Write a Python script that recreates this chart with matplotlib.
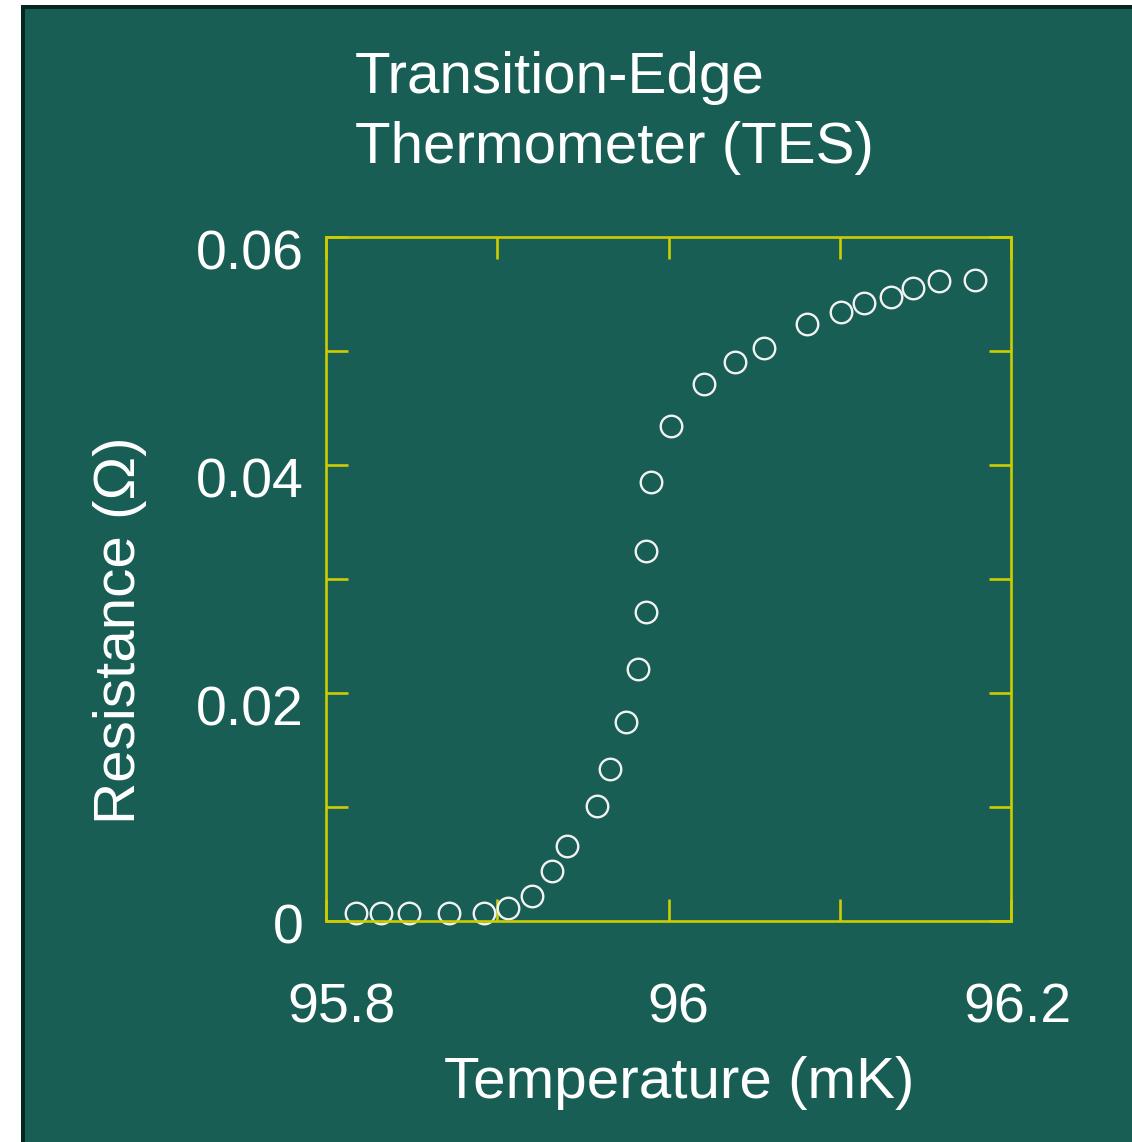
import matplotlib
matplotlib.use("Agg")
import matplotlib.pyplot as plt
import matplotlib.transforms as mtransforms
from matplotlib.patches import Rectangle

# ---- data ----
temperature_mK = [95.8175, 95.832, 95.8485, 95.872, 95.892, 95.906, 95.920, 95.932,
                  95.941, 95.958, 95.966, 95.975, 95.982, 95.987, 95.987, 95.990,
                  96.0015, 96.021, 96.039, 96.056, 96.081, 96.101, 96.114, 96.130,
                  96.143, 96.158, 96.179]
resistance_ohm = [0.0007, 0.0007, 0.0007, 0.0007, 0.0007, 0.00114, 0.0022, 0.0044,
                  0.0066, 0.0101, 0.0133, 0.0175, 0.0221, 0.0271, 0.0325, 0.0385,
                  0.0434, 0.0471, 0.0490, 0.0503, 0.0524, 0.0534, 0.0542, 0.0547,
                  0.0555, 0.0561, 0.0562]
x_major_ticks = [95.8, 96.0, 96.2]
x_major_labels = ["95.8", "96", "96.2"]
x_minor_ticks = [95.9, 96.1]
y_major_ticks = [0.0, 0.02, 0.04, 0.06]
y_major_labels = ["0", "0.02", "0.04", "0.06"]
y_minor_ticks = [0.01, 0.03, 0.05]
title_lines = ["Transition-Edge", "Thermometer (TES)"]
x_label = "Temperature (mK)"
y_label = "Resistance (\u03a9)"

# ---- style ----
BG = "#185e54"
BORDER = "#062622"
AXC = "#cccc00"
TXT = "white"
plt.rcParams['font.family'] = ['Liberation Sans', 'DejaVu Sans']

W, H = 1132, 1142
fig = plt.figure(figsize=(W / 100, H / 100), dpi=100, facecolor="white")
fig.patches.append(Rectangle((23 / W, -0.05), 1.2, 1 - 7 / H + 0.05,
                             transform=fig.transFigure, facecolor=BG,
                             edgecolor=BORDER, linewidth=2.9, zorder=-10))

ax = fig.add_axes([326 / W, 1 - 921 / H, (1011 - 326) / W, (921 - 237) / H])
ax.set_facecolor("none")
ax.plot(temperature_mK, resistance_ohm, linestyle="none", marker="o",
        markersize=15.5, markerfacecolor="none", markeredgecolor="#f2f2f2",
        markeredgewidth=1.7, clip_on=False, zorder=2)

ax.set_xlim(95.8, 96.2)
ax.set_ylim(0, 0.06)
for s in ax.spines.values():
    s.set_color(AXC)
    s.set_linewidth(1.9)

ax.set_xticks(x_major_ticks)
ax.set_xticklabels(x_major_labels)
ax.set_xticks(x_minor_ticks, minor=True)
ax.set_yticks(y_major_ticks)
ax.set_yticklabels(y_major_labels)
ax.set_yticks(y_minor_ticks, minor=True)

for which in ("major", "minor"):
    ax.tick_params(axis="both", which=which, direction="in", length=16, width=1.9,
                   color=AXC, top=True, right=True)
ax.tick_params(axis="x", which="major", labelsize=40, labelcolor=TXT, pad=44)
ax.tick_params(axis="y", which="major", labelsize=40, labelcolor=TXT, pad=16)

# small per-label nudges (pixels) to match the original placement
x_offsets = [16, 10, 6]
for lab, dx in zip(ax.get_xticklabels(), x_offsets):
    lab.set_transform(lab.get_transform() +
                      mtransforms.ScaledTranslation(dx / 100, 0, fig.dpi_scale_trans))
y_offsets = [-2, -13, -13, -13]
for lab, dy in zip(ax.get_yticklabels(), y_offsets):
    lab.set_transform(lab.get_transform() +
                      mtransforms.ScaledTranslation(0, dy / 100, fig.dpi_scale_trans))

ax.set_xlabel(x_label, fontsize=42, color=TXT)
ax.xaxis.set_label_coords((679 - 326) / 685, (921 - 1056) / 684)
ax.set_ylabel(y_label, fontsize=42, color=TXT)
ax.yaxis.set_label_coords((147 - 326) / 685, (921 - 630) / 684)

fig.text(355 / W, 1 - 93 / H, title_lines[0], fontsize=42, color=TXT,
         ha="left", va="baseline")
fig.text(355 / W, 1 - 163 / H, title_lines[1], fontsize=42, color=TXT,
         ha="left", va="baseline")

fig.savefig("out.png", dpi=100, facecolor="white")
